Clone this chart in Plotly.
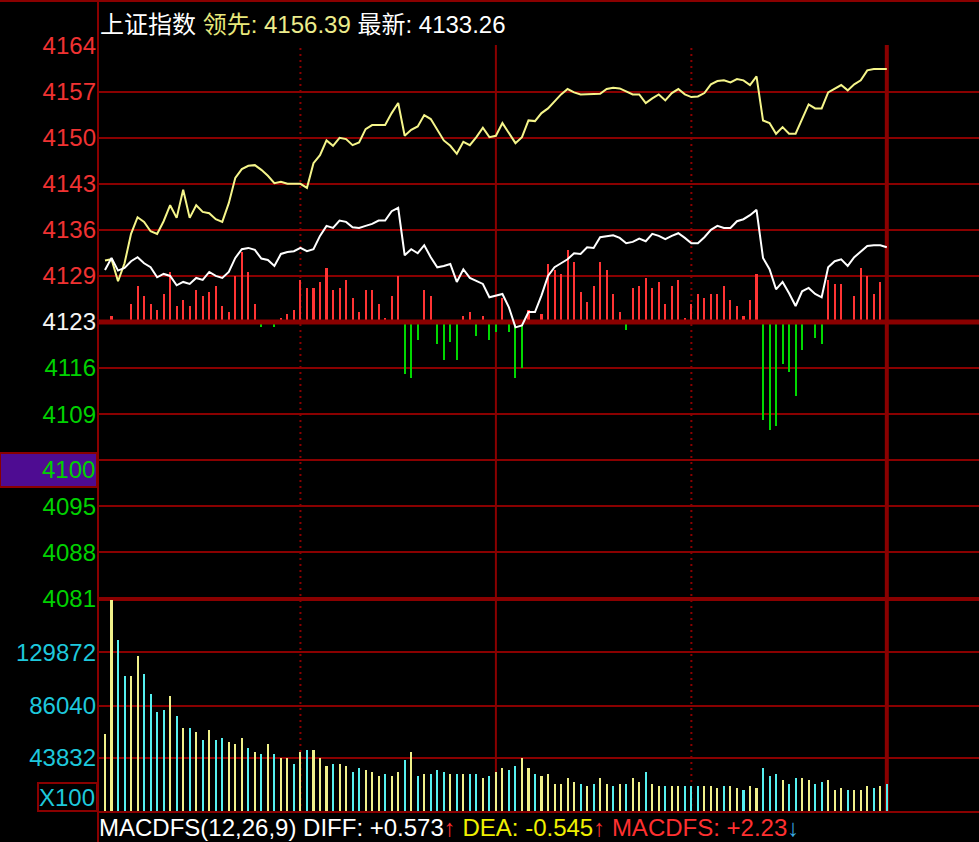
import plotly.graph_objects as go

# 画面尺寸 / 配色
W, H = 979, 842
FONT = "Liberation Sans, Arial, Noto Sans CJK SC, sans-serif"
BG = "#000000"
GRID = "#8a0000"
RED = "#ff3434"
GREEN = "#00d800"
LABEL_RED = "#f03232"
LABEL_GREEN = "#00d200"
LABEL_CYAN = "#1ec8dc"
LEAD_COLOR = "#f5f58a"
LAST_COLOR = "#ffffff"
VOL_UP = "#f0f08a"
VOL_DOWN = "#55f0f0"

# === 数据 (每 2 分钟一个点, 9:30 - 15:00) ===
PRE_CLOSE = 4122.7
PRICE_STEP = 6.9
PRICE_LABELS = ["4164", "4157", "4150", "4143", "4136", "4129", "4123",
                "4116", "4109", "", "4095", "4088", "4081"]
CURSOR_PRICE = 4100

VOL_TICKS = [43832, 86040, 129872]
VOL_LABELS = ["43832", "86040", "129872"]

SESSION_MARKS = [30, 60, 90, 120]   # 10:30, 11:30/13:00, 14:00, 15:00

LEAD = [
    4131.9, 4132.1, 4128.8, 4131.5, 4135.9, 4138.4, 4137.7, 4136.3, 4135.9, 4137.8,
    4140.2, 4138.3, 4142.5, 4138.3, 4140.2, 4139.2, 4139.0, 4138.1, 4137.7, 4140.5,
    4144.3, 4145.6, 4146.1, 4146.2, 4145.5, 4144.6, 4143.5, 4143.7, 4143.4, 4143.4,
    4143.4, 4142.8, 4146.5, 4147.7, 4149.9, 4149.1, 4150.3, 4150.1, 4149.2, 4149.6,
    4151.6, 4152.2, 4152.2, 4152.2, 4154.0, 4155.5, 4150.6, 4151.5, 4152.0, 4153.7,
    4153.1, 4151.5, 4149.9, 4149.1, 4147.9, 4149.7, 4149.2, 4150.4, 4151.8, 4150.4,
    4150.6, 4152.5, 4151.0, 4149.5, 4150.4, 4152.9, 4152.8, 4154.0, 4154.7, 4155.8,
    4156.8, 4157.6, 4157.1, 4156.8, 4156.8, 4156.8, 4156.9, 4157.6, 4157.8, 4157.7,
    4157.3, 4156.8, 4156.8, 4155.5, 4156.2, 4156.8, 4155.9, 4157.0, 4157.6, 4156.8,
    4156.4, 4156.5, 4157.0, 4158.3, 4158.8, 4158.9, 4158.6, 4159.1, 4158.9, 4158.2,
    4159.5, 4152.9, 4152.5, 4150.9, 4151.9, 4150.9, 4150.9, 4153.2, 4155.3, 4154.7,
    4154.7, 4157.1, 4157.7, 4158.2, 4157.4, 4158.3, 4158.9, 4160.4, 4160.6, 4160.6,
    4160.6,
]

LAST = [
    4130.5, 4132.3, 4130.4, 4130.8, 4131.8, 4132.4, 4131.5, 4130.9, 4129.4, 4129.9,
    4129.6, 4128.2, 4128.7, 4128.4, 4129.3, 4129.0, 4130.2, 4129.6, 4129.3, 4130.2,
    4132.3, 4133.6, 4133.8, 4133.5, 4132.2, 4132.0, 4131.1, 4132.9, 4133.2, 4133.3,
    4133.8, 4133.3, 4133.6, 4135.6, 4137.1, 4136.8, 4137.9, 4137.7, 4136.9, 4136.8,
    4137.1, 4137.4, 4137.9, 4137.9, 4139.3, 4139.8, 4132.7, 4133.6, 4133.0, 4134.2,
    4132.4, 4130.9, 4131.1, 4131.4, 4128.7, 4130.6, 4129.3, 4128.8, 4128.4, 4126.4,
    4126.6, 4126.9, 4124.9, 4121.9, 4122.2, 4124.2, 4124.2, 4126.7, 4129.6, 4130.9,
    4131.5, 4132.1, 4133.0, 4132.9, 4133.9, 4133.8, 4135.4, 4135.6, 4135.7, 4135.3,
    4134.5, 4134.7, 4135.2, 4134.8, 4135.9, 4135.6, 4135.1, 4135.6, 4136.0, 4135.3,
    4134.5, 4134.5, 4135.4, 4136.5, 4137.1, 4136.8, 4136.8, 4137.8, 4138.1, 4138.7,
    4139.5, 4132.3, 4130.6, 4127.6, 4128.7, 4127.0, 4125.1, 4127.3, 4127.8, 4126.9,
    4126.4, 4130.9, 4131.8, 4132.1, 4131.1, 4132.4, 4133.3, 4134.1, 4134.2, 4134.2,
    4133.9,
]

# 红绿柱
MACDFS = [
    0.0, 0.6, -0.15, -0.15, 1.8, 3.6, 2.6, 1.8, 1.2, 2.8,
    5.0, 1.6, 2.2, 1.6, 3.2, 2.6, 3.0, 3.6, 1.6, 1.0,
    4.6, 7.0, 5.0, 1.8, -0.5, 0.2, -0.5, 0.4, 0.8, 1.2,
    4.2, 3.4, 3.4, 4.0, 5.4, 3.2, 3.4, 4.2, 2.4, 1.0,
    3.2, 3.2, 1.8, 0.4, 2.6, 4.6, -5.2, -5.6, -1.8, 3.2,
    2.6, -2.2, -3.8, -2.0, -3.8, 0.6, 1.0, -1.4, 0.6, -1.8,
    -1.0, 2.4, -1.0, -5.6, -4.6, 1.2, -0.15, 0.8, 5.8, 5.2,
    4.8, 7.2, 6.0, 3.0, 2.0, 3.6, 6.0, 5.2, 2.8, 1.0,
    -0.8, 3.4, 3.6, 4.4, 3.4, 4.0, 1.8, 3.6, 4.2, 0.4,
    1.8, 2.8, 2.4, 2.8, 2.8, 3.6, 2.2, 1.6, 0.6, 2.2,
    4.8, -9.8, -10.8, -10.4, -4.2, -5.0, -7.4, -2.8, -0.15, -1.6,
    -2.2, 4.2, 3.8, 3.8, -0.15, 2.6, 5.4, 4.6, 2.8, 4.0,
    0.0,
]

VOLUME = [
    63100, 171900, 139400, 110200, 110200, 126400, 111800, 95600, 81000, 82600,
    93900, 77700, 68000, 68000, 64700, 58200, 66300, 58200, 59800, 56600,
    55000, 59800, 51700, 48500, 46900, 55000, 46900, 43600, 43600, 38700,
    48500, 50100, 50100, 43600, 37100, 38700, 38700, 37100, 32200, 35500,
    33900, 32200, 29000, 30600, 29000, 32200, 42000, 48500, 29000, 30600,
    30600, 33900, 32200, 30600, 30600, 30600, 30600, 30600, 27400, 29000,
    32200, 35500, 33900, 37100, 43600, 35500, 30600, 29000, 30600, 22500,
    22500, 27400, 24100, 22500, 20900, 22500, 27400, 22500, 20900, 22500,
    22500, 27400, 24100, 32200, 22500, 20900, 20900, 20900, 20900, 20900,
    20900, 20900, 20900, 20900, 19200, 20900, 20900, 19200, 17600, 20900,
    19200, 35500, 29000, 30600, 25700, 22500, 27400, 27400, 25700, 22500,
    24100, 25700, 17600, 19200, 17600, 17600, 17600, 20900, 19200, 20900,
    22500,
]
# Y = 上涨(黄), C = 下跌(青)
VOL_DIR = ("YYCCYYCCCC" "YCYCYCYCCY" "YYCYCYCYYC" "YCYYYCYYCC"
           "YYYCYYCYCY" "CCCYCYCCYC" "YYCCYYCYYY" "YYYCYCYYCY"
           "CYYCYYCYYC" "CCYYYCYYCY" "YCCCYCCYYC" "CYYYCYYYCY" "C")

K = list(range(len(LAST)))

# === 版面 ===
X_LEFT, X_RIGHT = -0.92, 134.15
PLOT_L = 99
PRICE_TOP, SPLIT, VOL_BOTTOM = 45, 599, 812
LABEL_SIZE = 24


def py(px):
    return 1 - px / H


price_ticks = [PRE_CLOSE + PRICE_STEP * n for n in range(6, -7, -1)]


def price_label(v, t):
    if abs(v - PRE_CLOSE) < 0.01:
        c = "#f4f4f4"
    elif v > PRE_CLOSE:
        c = LABEL_RED
    else:
        c = LABEL_GREEN
    return f'<span style="color:{c}">{t}</span>'


fig = go.Figure()

fig.add_trace(go.Bar(
    x=K, y=MACDFS, xaxis="x", yaxis="y",
    marker=dict(color=[RED if v > 0 else GREEN for v in MACDFS], line_width=0),
    width=0.32,
))
# 昨收线
fig.add_trace(go.Scatter(
    x=[X_LEFT, X_RIGHT], y=[PRE_CLOSE, PRE_CLOSE], xaxis="x", yaxis="y3",
    mode="lines", line=dict(color=GRID, width=5), cliponaxis=False,
))
fig.add_trace(go.Scatter(
    x=K, y=LEAD, xaxis="x", yaxis="y3", mode="lines",
    line=dict(color=LEAD_COLOR, width=2),
))
fig.add_trace(go.Scatter(
    x=K, y=LAST, xaxis="x", yaxis="y3", mode="lines",
    line=dict(color=LAST_COLOR, width=2),
))
fig.add_trace(go.Bar(
    x=K, y=VOLUME, xaxis="x2", yaxis="y2",
    marker=dict(color=[VOL_UP if d == "Y" else VOL_DOWN for d in VOL_DIR], line_width=0),
    width=0.32,
))

xdom = [PLOT_L / W, 1]
price_dom = [py(SPLIT), py(PRICE_TOP)]
vol_dom = [py(VOL_BOTTOM), py(SPLIT)]
half = (SPLIT - PRICE_TOP) / 2 / 10

shapes = []
# 会话分隔线
for m in SESSION_MARKS:
    if m == 120:
        ln = dict(color=GRID, width=4)
    elif m == 60:
        ln = dict(color=GRID, width=2)
    else:
        ln = dict(color=GRID, width=2, dash="2px,4px")
    shapes.append(dict(type="line", xref="x", yref="paper", x0=m, x1=m,
                       y0=py(VOL_BOTTOM), y1=py(PRICE_TOP), line=ln, layer="below"))
shapes += [
    dict(type="line", xref="paper", yref="paper", x0=PLOT_L / W, x1=1,
         y0=py(SPLIT), y1=py(SPLIT), line=dict(color=GRID, width=4), layer="below"),
    dict(type="line", xref="paper", yref="paper", x0=PLOT_L / W, x1=1,
         y0=py(VOL_BOTTOM), y1=py(VOL_BOTTOM), line=dict(color=GRID, width=2)),
    dict(type="line", xref="paper", yref="paper", x0=(PLOT_L - 1) / W, x1=(PLOT_L - 1) / W,
         y0=0, y1=1, line=dict(color=GRID, width=2)),
    dict(type="line", xref="paper", yref="paper", x0=0, x1=1,
         y0=py(1), y1=py(1), line=dict(color=GRID, width=2)),
    # 十字光标价格框
    dict(type="rect", xref="paper", yref="paper", x0=0, x1=(PLOT_L - 2) / W,
         y0=py(487), y1=py(453), fillcolor="#4e0c92",
         line=dict(color=GRID, width=2), layer="below"),
    dict(type="rect", xref="paper", yref="paper", x0=38 / W, x1=97 / W,
         y0=py(811), y1=py(783), line=dict(color=GRID, width=2)),
]

annotations = [
    dict(xref="paper", yref="paper", x=98 / W, y=py(25), xanchor="left", yanchor="middle",
         showarrow=False, font=dict(size=24, color="#ffffff", family=FONT),
         text=('上证指数 <span style="color:#e8e87c">领先:</span> '
               '<span style="color:#ecec8c">4156.39</span> 最新: 4133.26')),
    dict(xref="paper", yref="paper", x=98 / W, y=0, xanchor="left", yanchor="bottom",
         borderpad=0, showarrow=False, font=dict(size=24, color="#ffffff", family=FONT),
         text=('MACDFS(12,26,9) DIFF: +0.573<span style="color:#ff3030">↑</span> '
               '<span style="color:#f0f000">DEA: -0.545</span><span style="color:#ff3030">↑</span> '
               '<span style="color:#ff3030">MACDFS: +2.23</span><span style="color:#3aa8e0">↓</span>')),
    dict(xref="paper", yref="y3", x=97 / W, y=CURSOR_PRICE, xanchor="right", yanchor="middle",
         yshift=4, showarrow=False,
         font=dict(size=LABEL_SIZE, color=LABEL_GREEN, family=FONT), text=str(CURSOR_PRICE)),
    dict(xref="paper", yref="paper", x=97 / W, y=py(797), xanchor="right", yanchor="middle",
         showarrow=False, font=dict(size=LABEL_SIZE, color=LABEL_CYAN, family=FONT), text="X100"),
    dict(xref="paper", yref="paper", x=97 / W, y=py(850), xanchor="right", yanchor="middle",
         showarrow=False, font=dict(size=LABEL_SIZE, color=LABEL_RED, family=FONT), text="-2.55"),
]

fig.update_layout(
    width=W, height=H,
    paper_bgcolor=BG, plot_bgcolor=BG,
    margin=dict(l=0, r=0, t=0, b=0, pad=0, autoexpand=False),
    showlegend=False,
    bargap=0,
    font=dict(family=FONT, size=LABEL_SIZE),
    xaxis=dict(domain=xdom, range=[X_LEFT, X_RIGHT], visible=False, anchor="y", automargin=False),
    xaxis2=dict(domain=xdom, range=[X_LEFT, X_RIGHT], visible=False, anchor="y2",
                matches="x", automargin=False),
    yaxis=dict(domain=price_dom, range=[-half, half], visible=False, anchor="x", automargin=False),
    yaxis3=dict(
        overlaying="y", anchor="x", side="left", automargin=False,
        range=[PRE_CLOSE - 6 * PRICE_STEP - 0.1, PRE_CLOSE + 6 * PRICE_STEP + 0.1],
        tickmode="array", tickvals=price_ticks,
        ticktext=[price_label(v, t) for v, t in zip(price_ticks, PRICE_LABELS)],
        showgrid=True, gridcolor=GRID, gridwidth=2, zeroline=False,
        ticks="", showline=False, ticklabelstandoff=2,
        tickfont=dict(size=LABEL_SIZE, color=LABEL_RED, family=FONT),
    ),
    yaxis2=dict(
        domain=vol_dom, range=[0, 173000], anchor="x2", automargin=False,
        tickmode="array", tickvals=VOL_TICKS, ticktext=VOL_LABELS,
        showgrid=True, gridcolor=GRID, gridwidth=2, zeroline=False,
        ticks="", showline=False, ticklabelstandoff=2,
        tickfont=dict(size=LABEL_SIZE, color=LABEL_CYAN, family=FONT),
    ),
    shapes=shapes,
    annotations=annotations,
)

fig.write_html("out.html", config={"displayModeBar": False},
               post_script="document.body.style.margin='0';")
